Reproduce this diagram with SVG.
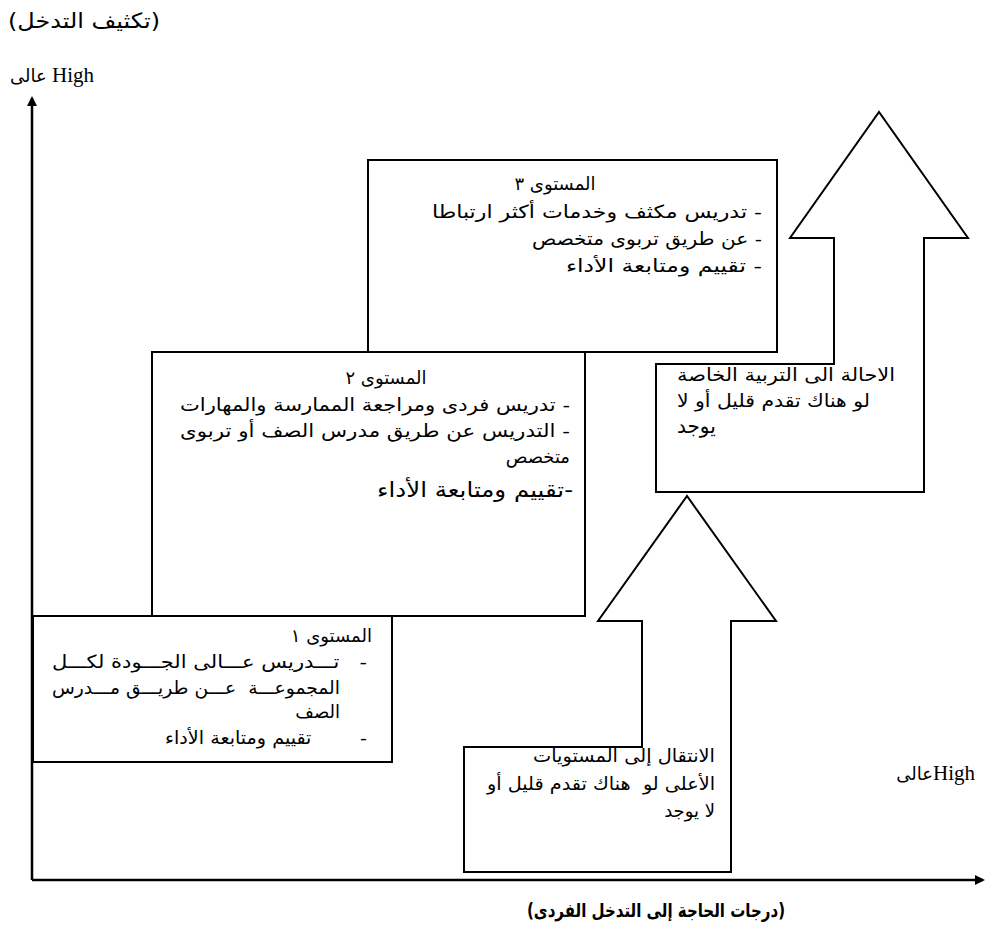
<svg xmlns="http://www.w3.org/2000/svg" width="993" height="931" viewBox="0 0 993 931">
<style>
.box{fill:#fff;stroke:#000;stroke-width:2}
.ax{stroke:#000;stroke-width:2.5;fill:none}
.ar{font-family:"DejaVu Sans","Liberation Sans",sans-serif;font-size:18px;fill:#000}
.rtl{direction:rtl;unicode-bidi:embed;text-anchor:start}
.pre{white-space:pre}
.en{font-family:"Liberation Serif","DejaVu Sans",serif;font-size:21px;fill:#000}
.ea{font-family:"DejaVu Sans",sans-serif;font-size:18px}
</style>
<defs>
<marker id="ah" markerWidth="10" markerHeight="10" refX="8" refY="5" orient="auto" markerUnits="userSpaceOnUse" viewBox="0 0 10 10">
<path d="M0,0 L10,5 L0,10 z" fill="#000"/>
</marker>
</defs>
<g id="connectors">
<line class="ax" x1="32" y1="880" x2="32" y2="98" marker-end="url(#ah)"/>
<line class="ax" x1="32" y1="880" x2="983" y2="880" marker-end="url(#ah)"/>
</g>
<g id="arrow-upper">
<polygon class="box" points="656,492 656,364 834,364 834,238 790,238 879,112 968,238 924,238 924,492"/>
<text class="ar" x="677" y="381" textLength="218" lengthAdjust="spacingAndGlyphs">الاحالة الى التربية الخاصة</text>
<text class="ar" x="677" y="407" textLength="193" lengthAdjust="spacingAndGlyphs">لو هناك تقدم قليل أو لا</text>
<text class="ar" x="677" y="433" style="font-size:20px">يوجد</text>
</g>
<g id="arrow-lower">
<polygon class="box" points="464,872 464,747 642,747 642,621 598,621 687,496 776,621 731,621 731,872"/>
<text class="ar rtl" x="715" y="762" textLength="182" lengthAdjust="spacingAndGlyphs">الانتقال إلى المستويات</text>
<text class="ar rtl pre" x="715" y="790" textLength="228" lengthAdjust="spacingAndGlyphs">الأعلى لو  هناك تقدم قليل أو</text>
<text class="ar rtl" x="715" y="817">لا يوجد</text>
</g>
<g id="level3">
<rect class="box" x="368" y="160" width="409" height="192"/>
<text class="ar" x="555" y="190" text-anchor="middle">المستوى ٣</text>
<text class="ar rtl" x="762" y="218" textLength="330" lengthAdjust="spacingAndGlyphs">- تدريس مكثف وخدمات أكثر ارتباطا</text>
<text class="ar rtl" x="762" y="245" textLength="230" lengthAdjust="spacingAndGlyphs">- عن طريق تربوى متخصص</text>
<text class="ar rtl" x="762" y="272" textLength="196" lengthAdjust="spacingAndGlyphs">- تقييم ومتابعة الأداء</text>
</g>
<g id="level2">
<rect class="box" x="152" y="352" width="433" height="264"/>
<text class="ar" x="386" y="384" text-anchor="middle">المستوى ٢</text>
<text class="ar rtl" x="570" y="411" textLength="390" lengthAdjust="spacingAndGlyphs">- تدريس فردى ومراجعة الممارسة والمهارات</text>
<text class="ar rtl" x="570" y="437" textLength="390" lengthAdjust="spacingAndGlyphs">- التدريس عن طريق مدرس الصف أو تربوى</text>
<text class="ar rtl" x="570" y="463">متخصص</text>
<text class="ar rtl" x="573" y="497" style="font-size:21px" textLength="196" lengthAdjust="spacingAndGlyphs">-تقييم ومتابعة الأداء</text>
</g>
<g id="level1">
<rect class="box" x="33" y="616" width="359" height="146"/>
<text class="ar rtl" x="372" y="642">المستوى ١</text>
<text class="ar rtl pre" x="367" y="668" textLength="315" lengthAdjust="spacingAndGlyphs">-   تـــدريس عـــالى الجـــودة لكـــل</text>
<text class="ar rtl pre" x="340" y="694" textLength="288" lengthAdjust="spacingAndGlyphs">المجموعـــة  عـــن طريـــق مـــدرس</text>
<text class="ar rtl" x="340" y="718">الصف</text>
<text class="ar rtl pre" x="367" y="744" textLength="202" lengthAdjust="spacingAndGlyphs">-        تقييم ومتابعة الأداء</text>
</g>
<g id="labels">
<text class="ar" x="8" y="28" style="font-size:21px" textLength="152" lengthAdjust="spacingAndGlyphs">(تكثيف التدخل)</text>
<text class="en" x="10" y="82"><tspan class="ea">عالى</tspan> High</text>
<text class="en" x="975" y="780" text-anchor="end"><tspan class="ea">عالى</tspan>High</text>
<text class="ar" x="527" y="917" style="font-size:19px;font-weight:bold" textLength="258" lengthAdjust="spacingAndGlyphs">(درجات الحاجة إلى التدخل الفردى)</text>
</g>
</svg>
